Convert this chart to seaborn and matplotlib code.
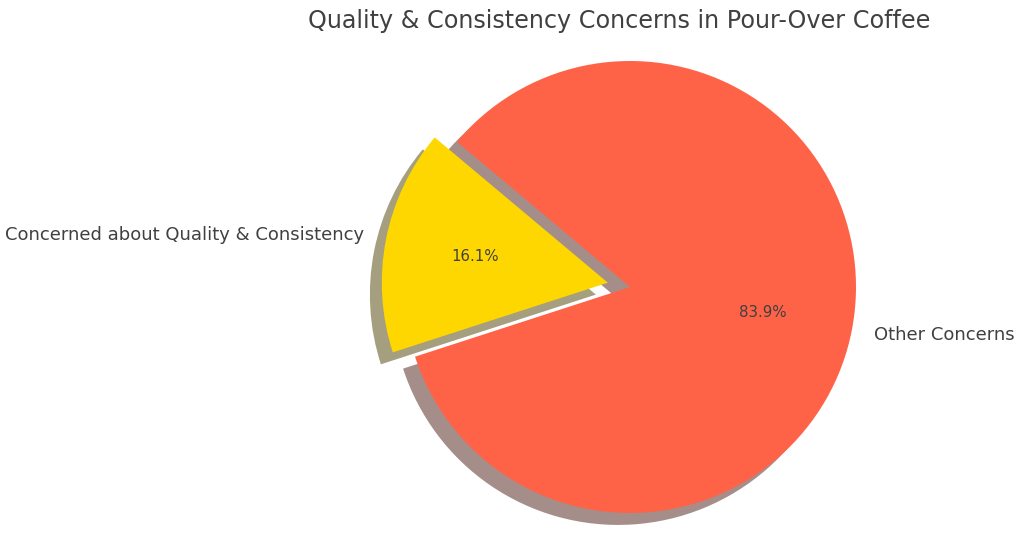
import matplotlib
matplotlib.use("Agg")
import matplotlib.pyplot as plt
import seaborn as sns

# dados
categorias = ["Concerned about Quality & Consistency", "Other Concerns"]
valores = [16.1, 83.9]
cores = ["#FFD700", "#FF6347"]
explodir = [0.1, 0]
titulo = "Quality & Consistency Concerns in Pour-Over Coffee"

sns.set_theme(style="white")
plt.rcParams["font.family"] = ["DejaVu Sans"]
cor_texto = "#404040"

fig = plt.figure(figsize=(10.24, 5.44), dpi=100)
# eixo quadrado posicionado para o centro da pizza ficar em (630, 287)
ax = fig.add_axes([347.5 / 1024, -25.5 / 544, 565 / 1024, 565 / 544])

wedges, textos, pcts = ax.pie(
    valores,
    labels=categorias,
    colors=cores,
    explode=explodir,
    autopct="%1.1f%%",
    startangle=140,
    shadow={"ox": -0.038, "oy": -0.038},
    wedgeprops={"linewidth": 0},
    textprops={"color": cor_texto},
)
for t in textos:
    t.set_fontsize(13)
for t in pcts:
    t.set_fontsize(10.8)

ax.set_xlim(-1.25, 1.25)
ax.set_ylim(-1.25, 1.25)
ax.set_aspect("equal")
ax.axis("off")

fig.text(619.5 / 1024, 1 - 21 / 544, titulo, ha="center", va="center",
         fontsize=17.2, color=cor_texto)

fig.savefig("out.png", dpi=100)
plt.close(fig)
